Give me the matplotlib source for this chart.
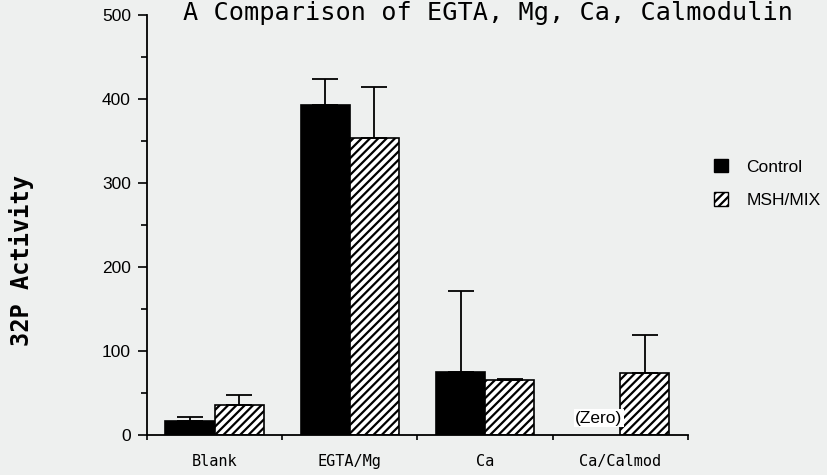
import numpy as np
import matplotlib
matplotlib.use("Agg")
import matplotlib.pyplot as plt
from matplotlib.patches import Patch

# group labels and measured activity (upper error only)
groups = ["Blank", "EGTA/Mg", "Ca", "Ca/Calmod"]
control = [17, 393, 75, 0]
control_err = [4, 31, 96, 0]
msh_mix = [36, 354, 65, 74]
msh_mix_err = [12, 60, 2, 45]
series_names = ["Control", "MSH/MIX"]

BG = "#eef0ef"
SANS = "Liberation Sans"
MONO = "DejaVu Sans Mono"


def main():
    plt.rcParams["hatch.linewidth"] = 1.6
    plt.rcParams["hatch.color"] = "black"
    fig = plt.figure(figsize=(8.28, 4.75), dpi=100, facecolor=BG)
    ax = fig.add_axes([0.1775, 0.0842, 0.6534, 0.8842], facecolor=BG)
    draw_bars(ax)
    style_axes(ax)
    add_labels(fig, ax)
    fig.savefig("out.png", dpi=100, facecolor=BG)


def draw_bars(ax):
    x = np.arange(len(groups)) + 0.5
    w = 0.363
    ctrl_x = x - w / 2
    msh_x = x + w / 2

    # the Ca/Calmod control is zero, so it gets no bar
    shown = [i for i, v in enumerate(control) if v > 0]
    ax.bar(ctrl_x[shown], [control[i] for i in shown], width=w,
           color="black", edgecolor="black", linewidth=1.2, zorder=2)
    ax.bar(msh_x, msh_mix, width=w, color="white", edgecolor="black",
           hatch="////", linewidth=1.2, zorder=2)

    err_kw = dict(fmt="none", ecolor="black", elinewidth=1.3,
                  capsize=9.5, capthick=1.3, zorder=3)
    ax.errorbar(ctrl_x[shown], [control[i] for i in shown],
                yerr=[[0] * len(shown), [control_err[i] for i in shown]],
                **err_kw)
    ax.errorbar(msh_x, msh_mix, yerr=[[0] * len(msh_mix), msh_mix_err],
                **err_kw)

    # note on the missing control bar
    ax.text(ctrl_x[3] + 0.02, 20, "(Zero)", ha="center", va="center",
            family=SANS, fontsize=12.5, zorder=4,
            bbox=dict(facecolor="white", edgecolor="none", pad=1.0))


def style_axes(ax):
    ax.set_xlim(0, 4)
    ax.set_ylim(0, 500)
    for side in ("top", "right"):
        ax.spines[side].set_visible(False)
    for side in ("left", "bottom"):
        ax.spines[side].set_linewidth(1.3)

    ax.set_yticks(np.arange(0, 501, 100))
    ax.set_yticks(np.arange(50, 500, 100), minor=True)
    ax.tick_params(axis="y", which="major", direction="out", length=6.5,
                   width=1.2, pad=5, labelsize=12.5)
    ax.tick_params(axis="y", which="minor", direction="out", length=4.3,
                   width=1.2)
    for lab in ax.get_yticklabels():
        lab.set_family(SANS)

    # ticks at group edges, names under the group centres
    ax.set_xticks(np.arange(0, 5))
    ax.set_xticklabels([])
    ax.set_xticks(np.arange(len(groups)) + 0.5, minor=True)
    ax.set_xticklabels(groups, minor=True)
    ax.tick_params(axis="x", which="major", direction="out", length=3.5,
                   width=1.2)
    ax.tick_params(axis="x", which="minor", length=0, pad=14, labelsize=11)
    for lab in ax.get_xticklabels(minor=True):
        lab.set_family(MONO)


def add_labels(fig, ax):
    fig.text(0.589, 1 - 20 / 475, "A Comparison of EGTA, Mg, Ca, Calmodulin",
             ha="center", va="baseline", family=MONO, fontsize=18.2)
    fig.text(0.026, 1 - 261 / 475, "32P Activity", rotation=90,
             ha="center", va="center", family=MONO, fontweight="bold",
             fontsize=17)

    handles = [Patch(facecolor="black", edgecolor="black"),
               Patch(facecolor="white", edgecolor="black", hatch="////")]
    fig.legend(handles, series_names, loc="upper left",
               bbox_to_anchor=(0.843, 1 - 143 / 475), frameon=False,
               prop={"family": SANS, "size": 12.5}, handlelength=0.85,
               handleheight=0.85, handletextpad=1.05, labelspacing=1.0)


if __name__ == "__main__":
    main()
